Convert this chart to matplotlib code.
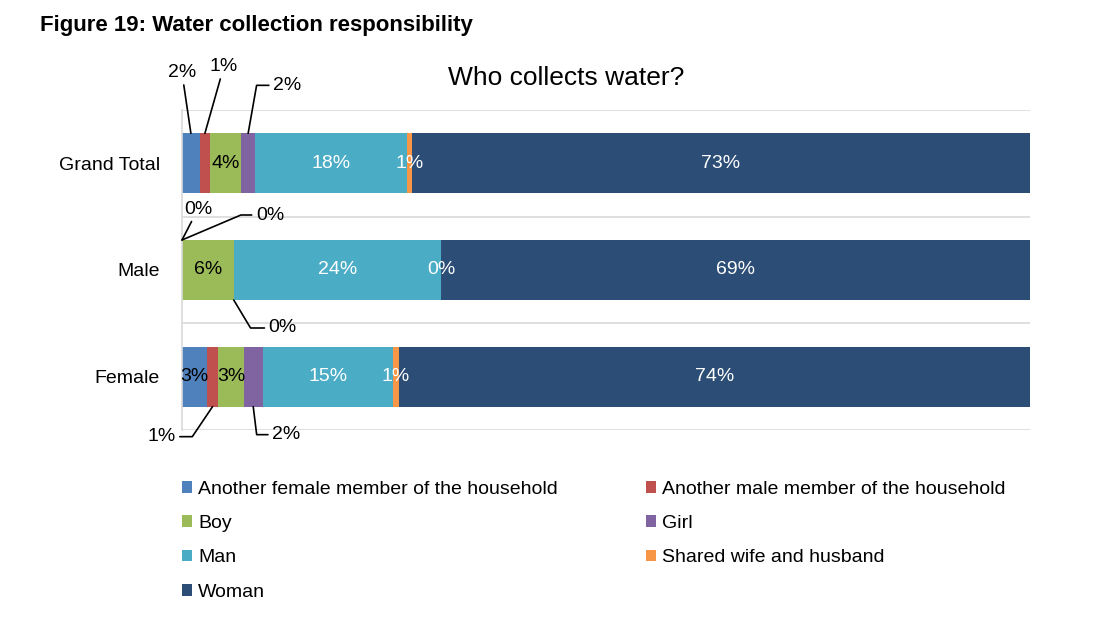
import numpy as np
import matplotlib
matplotlib.use("Agg")
import matplotlib.pyplot as plt

plt.rcParams['font.family'] = ['Liberation Sans', 'DejaVu Sans']

# data (percent of respondents)
groups = ['Grand Total', 'Male', 'Female']
series = ['Another female member of the household', 'Another male member of the household',
          'Boy', 'Girl', 'Man', 'Shared wife and husband', 'Woman']
grand_total = [2.1, 1.2, 3.7, 1.6, 17.9, 0.6, 72.9]
male = [0.0, 0.0, 6.1, 0.0, 24.4, 0.1, 69.4]
female = [2.9, 1.4, 3.0, 2.2, 15.4, 0.7, 74.4]
values = np.array([grand_total, male, female])

colors = ['#4F81BD', '#C0504D', '#9BBB59', '#8064A2', '#4BACC6', '#F79646', '#2C4D75']
text_colors = ['black', 'white', 'black', 'white', 'white', 'white', 'white']

# labels that sit outside the bar with a leader line:
# (group, series, edge, text offset px, elbow angle or None)
leaders = [
    (0, 0, 'top', (-9, 61), None),
    (0, 1, 'top', (19, 67), None),
    (0, 3, 'top', (39, 48), 80),
    (1, 0, 'top', (16, 31), None),
    (1, 1, 'top', (88, 25), 23),
    (1, 3, 'bottom', (49, -28), -59),
    (2, 1, 'bottom', (-51, -30), 56),
    (2, 3, 'bottom', (33, -28), -83),
]

fig = plt.figure(figsize=(11.17, 6.28), dpi=100)
ax = fig.add_axes([182 / 1117, 1 - 430 / 628, 848 / 1117, 320 / 628])

ypos = np.arange(len(groups))[::-1]
bar_h = 0.5625
handles = []
left = np.zeros(len(groups))
for j, name in enumerate(series):
    b = ax.barh(ypos, values[:, j], left=left, height=bar_h, color=colors[j], label=name)
    handles.append(b)
    left += values[:, j]

lead_keys = {(g, s) for g, s, *_ in leaders}
cum = np.cumsum(values, axis=1) - values
for g in range(len(groups)):
    for j in range(len(series)):
        if (g, j) in lead_keys:
            continue
        xc = cum[g, j] + values[g, j] / 2
        ax.text(xc, ypos[g], f"{round(values[g, j]):.0f}%", ha='center', va='center',
                fontsize=14, color=text_colors[j])

for g, j, edge, off, ang in leaders:
    xc = cum[g, j] + values[g, j] / 2
    ye = ypos[g] + (bar_h / 2 if edge == 'top' else -bar_h / 2)
    if ang is None:
        cs = 'arc3,rad=0'
    else:
        cs = f'angle,angleA=0,angleB={ang},rad=0'
    ax.annotate(f"{round(values[g, j]):.0f}%", xy=(xc, ye), xytext=off,
                textcoords='offset pixels', ha='center', va='center', fontsize=14,
                arrowprops=dict(arrowstyle='-', color='black', lw=1.2,
                                connectionstyle=cs, shrinkA=1, shrinkB=0))

ax.set_xlim(0, 100)
ax.set_ylim(-0.5, len(groups) - 0.5)
ax.set_yticks(ypos)
ax.set_yticklabels(groups, fontsize=14)
ax.set_xticks([])
ax.set_yticks(np.arange(-0.5, len(groups)), minor=True)
ax.tick_params(axis='y', which='both', length=0, pad=16)
ax.grid(which='minor', axis='y', color='#D9D9D9', lw=1.2)
ax.set_axisbelow(True)
for s in ['top', 'right', 'bottom']:
    ax.spines[s].set_visible(False)
ax.spines['left'].set_color('#D9D9D9')
ax.spines['left'].set_linewidth(1.2)

fig.text(40 / 1117, 1 - 25 / 628, 'Figure 19: Water collection responsibility',
         fontsize=16, fontweight='bold', va='center', ha='left')
fig.text(566 / 1117, 1 - 78 / 628, 'Who collects water?', fontsize=19,
         va='center', ha='center')

order = [0, 2, 4, 6, 1, 3, 5]
fig.legend([handles[i] for i in order], [series[i] for i in order],
           loc='upper left', bbox_to_anchor=(172 / 1117, 1 - 471 / 628), ncol=2,
           frameon=False, fontsize=14, borderpad=0, handlelength=0.55, handleheight=0.55,
           handletextpad=0.3, columnspacing=4.5, labelspacing=0.89)

fig.savefig('out.png', dpi=100)
